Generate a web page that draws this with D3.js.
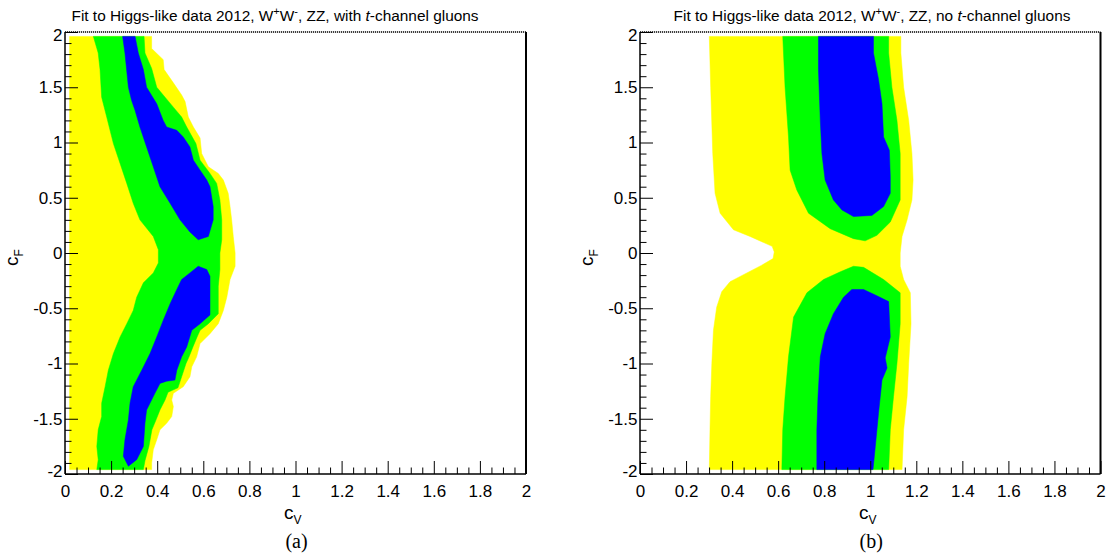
<!DOCTYPE html>
<html><head><meta charset="utf-8">
<script src="https://cdn.jsdelivr.net/npm/d3@7"></script>
<style>
body{margin:0;background:#fff;}
svg{display:block;}
text{font-family:"Liberation Sans",Arial,Helvetica,sans-serif;fill:#000;}
</style>
</head><body>
<svg id="c" width="1107" height="557"></svg>
<script>
// ---------- data ----------
const xTickValues = [0,0.2,0.4,0.6,0.8,1,1.2,1.4,1.6,1.8,2];
const xTickLabels = ["0","0.2","0.4","0.6","0.8","1","1.2","1.4","1.6","1.8","2"];
const yTickValues = [-2,-1.5,-1,-0.5,0,0.5,1,1.5,2];
const yTickLabels = ["-2","-1.5","-1","-0.5","0","0.5","1","1.5","2"];
const titleEnd = ["with", "no"];
const panelTags = ["(a)","(b)"];
const levelNames = ["99%","95%","68%"];
const levelColors = ["#ffff00","#00ff00","#0000ff"];

// panel (a): with t-channel gluons  [cV, cF]
const aYellow = [[0.02,1.96],[0.376,1.96],[0.376,1.85],[0.426,1.75],[0.430,1.66],[0.470,1.54],[0.506,1.43],[0.521,1.37],[0.535,1.23],[0.557,1.14],[0.586,1.04],[0.593,0.90],[0.622,0.78],[0.665,0.72],[0.687,0.66],[0.708,0.54],[0.716,0.42],[0.723,0.30],[0.730,0.15],[0.738,0.00],[0.738,-0.12],[0.716,-0.24],[0.702,-0.40],[0.687,-0.52],[0.665,-0.64],[0.629,-0.73],[0.586,-0.82],[0.571,-0.94],[0.550,-1.03],[0.542,-1.12],[0.513,-1.21],[0.470,-1.27],[0.463,-1.33],[0.470,-1.39],[0.463,-1.48],[0.441,-1.54],[0.412,-1.60],[0.398,-1.69],[0.383,-1.78],[0.376,-1.90],[0.376,-1.96],[0.02,-1.96]];
const aGreen = [[0.123,1.96],[0.144,1.81],[0.152,1.66],[0.159,1.41],[0.181,1.23],[0.210,0.99],[0.239,0.81],[0.268,0.63],[0.296,0.45],[0.325,0.30],[0.383,0.15],[0.405,0.03],[0.405,-0.09],[0.383,-0.18],[0.340,-0.27],[0.311,-0.40],[0.296,-0.52],[0.268,-0.64],[0.239,-0.76],[0.210,-0.91],[0.188,-1.06],[0.174,-1.21],[0.159,-1.36],[0.159,-1.48],[0.144,-1.60],[0.138,-1.75],[0.144,-1.87],[0.138,-1.96],
  [0.340,-1.96],[0.347,-1.88],[0.364,-1.75],[0.377,-1.60],[0.395,-1.51],[0.412,-1.42],[0.434,-1.33],[0.447,-1.26],[0.490,-1.22],[0.506,-1.12],[0.525,-1.00],[0.538,-0.94],[0.555,-0.85],[0.573,-0.76],[0.586,-0.70],[0.622,-0.64],[0.665,-0.55],[0.665,-0.30],[0.672,-0.15],[0.672,0.00],[0.680,0.12],[0.680,0.30],[0.672,0.48],[0.658,0.63],[0.629,0.72],[0.586,0.84],[0.568,0.99],[0.528,1.14],[0.506,1.23],[0.470,1.32],[0.434,1.41],[0.398,1.50],[0.376,1.67],[0.347,1.81],[0.343,1.96]];
const aBlueUp = [[0.250,1.96],[0.260,1.81],[0.275,1.50],[0.289,1.38],[0.304,1.29],[0.325,1.14],[0.354,0.96],[0.383,0.78],[0.412,0.60],[0.456,0.45],[0.499,0.30],[0.542,0.19],[0.578,0.12],[0.622,0.15],[0.643,0.30],[0.643,0.42],[0.629,0.60],[0.615,0.66],[0.586,0.75],[0.557,0.84],[0.542,0.96],[0.513,1.05],[0.485,1.11],[0.441,1.14],[0.426,1.20],[0.398,1.35],[0.354,1.50],[0.340,1.66],[0.318,1.81],[0.304,1.96]];
const aBlueDown = [[0.578,-0.12],[0.542,-0.18],[0.506,-0.24],[0.485,-0.33],[0.456,-0.46],[0.426,-0.61],[0.398,-0.76],[0.369,-0.91],[0.333,-1.06],[0.296,-1.21],[0.282,-1.36],[0.275,-1.51],[0.260,-1.69],[0.253,-1.84],[0.275,-1.93],[0.311,-1.87],[0.340,-1.75],[0.347,-1.54],[0.354,-1.42],[0.390,-1.27],[0.412,-1.18],[0.441,-1.16],[0.477,-1.15],[0.485,-1.06],[0.506,-0.94],[0.528,-0.85],[0.550,-0.70],[0.586,-0.64],[0.629,-0.56],[0.629,-0.40],[0.629,-0.21],[0.615,-0.15]];

// panel (b): no t-channel gluons  [cV, cF]
const bYellow = [[0.301,1.96],[0.307,1.50],[0.316,0.90],[0.326,0.54],[0.348,0.36],[0.406,0.21],[0.478,0.15],[0.574,0.06],[0.583,0.01],[0.578,-0.05],[0.529,-0.11],[0.391,-0.26],[0.355,-0.35],[0.333,-0.49],[0.319,-0.70],[0.312,-1.00],[0.307,-1.30],[0.304,-1.60],[0.301,-1.96],[1.138,-1.96],[1.145,-1.60],[1.160,-1.30],[1.167,-1.00],[1.177,-0.64],[1.174,-0.36],[1.145,-0.24],[1.130,-0.12],[1.130,0.00],[1.138,0.15],[1.160,0.30],[1.181,0.48],[1.186,0.66],[1.181,0.90],[1.167,1.20],[1.145,1.50],[1.133,1.81],[1.133,1.96]];
const bGreenUp = [[0.620,1.96],[0.630,1.50],[0.645,1.05],[0.652,0.75],[0.681,0.57],[0.732,0.36],[0.826,0.22],[0.927,0.13],[0.978,0.11],[1.029,0.16],[1.087,0.28],[1.130,0.48],[1.130,0.90],[1.116,1.20],[1.094,1.50],[1.080,1.81],[1.080,1.96]];
const bBlueUp = [[0.775,1.96],[0.775,1.66],[0.783,1.20],[0.790,0.90],[0.804,0.66],[0.840,0.48],[0.877,0.39],[0.927,0.33],[1.007,0.34],[1.058,0.42],[1.087,0.54],[1.087,0.69],[1.083,0.93],[1.058,1.05],[1.051,1.35],[1.036,1.57],[1.014,1.81],[1.014,1.96]];
const bGreenDown = [[0.927,-0.12],[0.870,-0.17],[0.797,-0.24],[0.725,-0.36],[0.667,-0.58],[0.645,-0.94],[0.630,-1.30],[0.620,-1.60],[0.616,-1.96],[1.080,-1.96],[1.087,-1.60],[1.101,-1.30],[1.116,-1.00],[1.130,-0.64],[1.130,-0.36],[1.058,-0.24],[0.971,-0.13]];
const bBlueDown = [[0.920,-0.33],[0.884,-0.40],[0.840,-0.55],[0.804,-0.73],[0.783,-0.94],[0.773,-1.30],[0.768,-1.60],[0.768,-1.96],[1.012,-1.96],[1.022,-1.75],[1.036,-1.45],[1.051,-1.15],[1.073,-1.04],[1.065,-0.95],[1.087,-0.76],[1.080,-0.44],[1.022,-0.38],[0.971,-0.33]];

const panelRegions = [
  [[aYellow,0],[aGreen,1],[aBlueUp,2],[aBlueDown,2]],
  [[bYellow,0],[bGreenUp,1],[bGreenDown,1],[bBlueUp,2],[bBlueDown,2]]
];

// ---------- layout ----------
const panels = [
  {x0:65, x1:526, titleX:275},
  {x0:640, x1:1100.5, titleX:872}
];
const yTop = 32, yBot = 474;

const svg = d3.select("#c");
const yScale = d3.scaleLinear().domain([-2,2]).range([yBot,yTop]);
const minorX = d3.range(0,2.0001,0.05).filter(v => Math.abs(v/0.2 - Math.round(v/0.2))>1e-6);
const minorY = d3.range(-2,2.0001,0.1).filter(v => Math.abs(v/0.5 - Math.round(v/0.5))>1e-6);

panels.forEach((p,i) => {
  const xScale = d3.scaleLinear().domain([0,2]).range([p.x0,p.x1]);
  const g = svg.append("g");
  const line = d3.line().x(d=>xScale(d[0])).y(d=>yScale(d[1]));

  panelRegions[i].forEach(([pts,lev]) => {
    g.append("path").attr("d", line(pts)+"Z")
      .attr("fill", levelColors[lev]).attr("stroke", levelColors[lev]).attr("stroke-width",0.5)
      .attr("data-level", levelNames[lev]);
  });

  // x axis major
  const xa = d3.axisBottom(xScale).tickValues(xTickValues)
    .tickFormat((d,k)=>xTickLabels[k]).tickSizeInner(-13).tickSizeOuter(0).tickPadding(10.5);
  const gx = g.append("g").attr("transform",`translate(0,${yBot})`).call(xa);
  gx.select(".domain").remove();
  gx.selectAll("text").style("font-size","17px").style("font-family",'"Liberation Sans",Arial,sans-serif');
  gx.selectAll("line").attr("stroke","#000");
  const xm = d3.axisBottom(xScale).tickValues(minorX).tickFormat("").tickSizeInner(-6.5).tickSizeOuter(0);
  const gxm = g.append("g").attr("transform",`translate(0,${yBot})`).call(xm);
  gxm.select(".domain").remove();

  // y axis major
  const ya = d3.axisLeft(yScale).tickValues(yTickValues)
    .tickFormat((d,k)=>yTickLabels[k]).tickSizeInner(-13).tickSizeOuter(0).tickPadding(2.5);
  const gy = g.append("g").attr("transform",`translate(${p.x0},0)`).call(ya);
  gy.select(".domain").remove();
  gy.selectAll("text").style("font-size","17px").style("font-family",'"Liberation Sans",Arial,sans-serif')
    .attr("y", d => d===2 ? 3 : (d===-2 ? -3 : 0));
  const ym = d3.axisLeft(yScale).tickValues(minorY).tickFormat("").tickSizeInner(-6.5).tickSizeOuter(0);
  const gym = g.append("g").attr("transform",`translate(${p.x0},0)`).call(ym);
  gym.select(".domain").remove();

  // frame
  g.append("line").attr("x1",p.x0).attr("x2",p.x1).attr("y1",yBot).attr("y2",yBot).attr("stroke","#000").attr("stroke-width",1.5);
  g.append("line").attr("x1",p.x0).attr("x2",p.x0).attr("y1",yTop).attr("y2",yBot).attr("stroke","#000").attr("stroke-width",1.5);
  g.append("line").attr("x1",p.x1).attr("x2",p.x1).attr("y1",yTop).attr("y2",yBot).attr("stroke","#000").attr("stroke-width",2);
  g.append("line").attr("x1",p.x0).attr("x2",p.x1).attr("y1",yTop).attr("y2",yTop).attr("stroke","#000").attr("stroke-width",1.6).attr("stroke-dasharray","1.2,0.8");

  // title
  const t = g.append("text").attr("x",p.titleX).attr("y",20.5).attr("text-anchor","middle").style("font-size","15.4px");
  t.append("tspan").text("Fit to Higgs-like data 2012, W");
  t.append("tspan").attr("dy",-5.5).style("font-size","11px").text("+");
  t.append("tspan").attr("dy",5.5).text("W");
  t.append("tspan").attr("dy",-5.5).style("font-size","11px").text("-");
  t.append("tspan").attr("dy",5.5).text(", ZZ, " + titleEnd[i] + " ");
  t.append("tspan").style("font-style","italic").text("t");
  t.append("tspan").text("-channel gluons");

  // x title
  const xt = g.append("text").attr("x",p.x0+219).attr("y",519).style("font-size","19px");
  xt.append("tspan").text("c");
  xt.append("tspan").attr("dy",5).style("font-size","12px").text("V");

  // y title
  const yt = g.append("text").attr("transform",`translate(${p.x0-47},266) rotate(-90)`).style("font-size","19px");
  yt.append("tspan").text("c");
  yt.append("tspan").attr("dy",5).style("font-size","12px").text("F");

  // tag
  g.append("text").attr("x",(p.x0+p.x1)/2+1).attr("y",548).attr("text-anchor","middle")
    .style("font-family",'"Liberation Serif","Times New Roman",serif').style("font-size","20px").text(panelTags[i]);
});
</script>
</body></html>
